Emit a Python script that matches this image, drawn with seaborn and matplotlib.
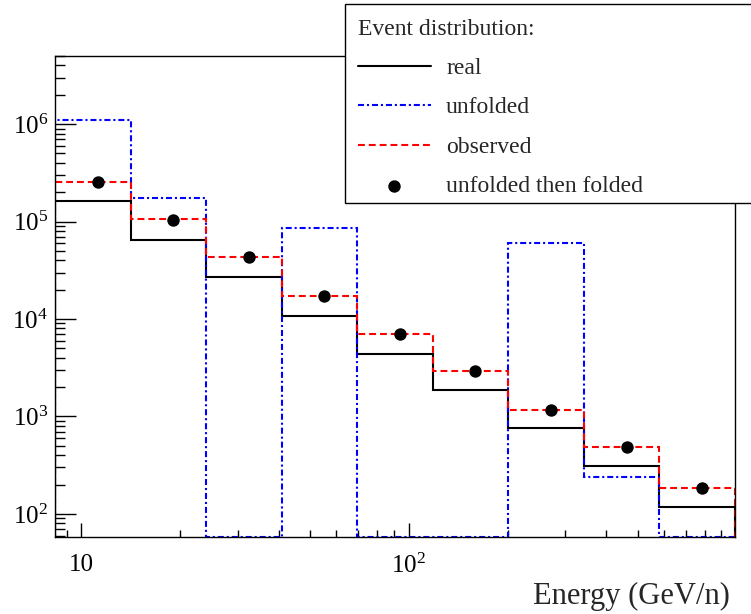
import numpy as np
import pandas as pd
import matplotlib
matplotlib.use("Agg")
import matplotlib.pyplot as plt
import matplotlib.ticker as mticker
from matplotlib.patches import Rectangle
import seaborn as sns

# bin edges (GeV/n), 9 log-spaced bins
bin_edges = [8.3, 14.12, 24.02, 40.86, 69.5, 118.2, 201.1, 342.0, 582.0, 990.0]

# counts per bin
real = [1.62e5, 6.5e4, 2.7e4, 1.08e4, 4.4e3, 1.85e3, 760, 310, 118]
unfolded = [1.1e6, 1.74e5, 0, 8.5e4, 0, 0, 6.0e4, 240, 0]
observed = [2.54e5, 1.07e5, 4.3e4, 1.73e4, 7.0e3, 2.9e3, 1.17e3, 486, 185]
folded = [2.57e5, 1.05e5, 4.3e4, 1.73e4, 7.0e3, 2.9e3, 1.17e3, 486, 185]

y_lo, y_hi = 58, 5.0e6

sns.set_theme(style="ticks")
plt.rcParams["font.family"] = ["Liberation Serif", "DejaVu Serif"]
plt.rcParams["mathtext.fontset"] = "custom"
plt.rcParams["mathtext.rm"] = "Liberation Serif"
plt.rcParams["mathtext.it"] = "Liberation Serif:italic"

fig = plt.figure(figsize=(7.51, 6.14), dpi=100)
ax = fig.add_axes([55 / 751, 1 - 537 / 614, 680 / 751, 481 / 614])

edges = np.array(bin_edges)
centers = (edges[:-1] + edges[1:]) / 2  # arithmetic centre, like ROOT

h_real = ax.stairs(real, edges, baseline=1e-3, color="black", lw=1.5,
                   label="real")
h_unf = ax.stairs(np.maximum(unfolded, y_lo), edges, baseline=1e-3,
                  color="blue", lw=1.5, linestyle=(0, (2.9, 1.4, 1, 1.4)),
                  label="unfolded")
h_obs = ax.stairs(observed, edges, baseline=1e-3, color="red", lw=1.5,
                  linestyle=(0, (3.3, 1.9)), label="observed")

df = pd.DataFrame({"energy": centers, "counts": folded})
sns.scatterplot(data=df, x="energy", y="counts", ax=ax, color="black",
                s=80, edgecolor="black", linewidth=0, zorder=5,
                label="unfolded then folded", legend=False)
h_pts = ax.collections[-1]

ax.set_xscale("log")
ax.set_yscale("log")
ax.set_xlim(edges[0], edges[-1])
ax.set_ylim(y_lo, y_hi)

ax.xaxis.set_major_locator(mticker.FixedLocator([10, 100]))
ax.xaxis.set_major_formatter(mticker.FixedFormatter(["10", r"$\mathdefault{10^{2}}$"]))
ax.xaxis.set_minor_locator(mticker.LogLocator(base=10, subs=np.arange(2, 10)))
ax.xaxis.set_minor_formatter(mticker.NullFormatter())
ax.yaxis.set_major_locator(mticker.LogLocator(base=10, numticks=10))
ax.yaxis.set_major_formatter(mticker.LogFormatterMathtext())
ax.yaxis.set_minor_locator(mticker.LogLocator(base=10, subs=np.arange(2, 10), numticks=20))
ax.yaxis.set_minor_formatter(mticker.NullFormatter())

ax.tick_params(axis="both", which="both", direction="in", top=False,
               right=False, width=1, colors="black", labelsize=18)
ax.tick_params(axis="y", which="major", length=15, pad=5)
ax.tick_params(axis="y", which="minor", length=7.5)
ax.tick_params(axis="x", which="major", length=10, pad=12)
ax.tick_params(axis="x", which="minor", length=5)
for sp in ax.spines.values():
    sp.set_linewidth(1)
    sp.set_color("black")

ax.set_xlabel("Energy (GeV/n)", fontsize=22, ha="right", va="center")
ax.xaxis.set_label_coords((730 - 55) / 680, -(596 - 537) / 481)
ax.set_ylabel("")

# legend box (runs off the right edge like the original)
fig.patches.append(Rectangle((345 / 751, 1 - 203 / 614), 0.6, 199 / 614,
                             transform=fig.transFigure, facecolor="white",
                             edgecolor="black", lw=1, zorder=10))
leg = fig.legend([h_real, h_unf, h_obs, h_pts],
                 ["real", "unfolded", "observed", "unfolded then folded"],
                 loc="upper left", bbox_to_anchor=(341 / 751, 1 - 2 / 614),
                 frameon=False, fontsize=17, title="Event distribution:",
                 title_fontsize=17, alignment="left", handlelength=3.1,
                 handletextpad=0.65, labelspacing=0.76, borderpad=0.2)
leg.set_zorder(11)

fig.savefig("out.png", dpi=100)
